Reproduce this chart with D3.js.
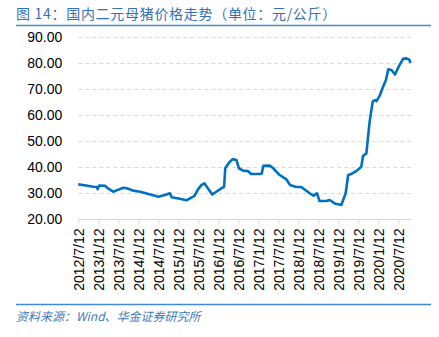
<!DOCTYPE html>
<html><head><meta charset="utf-8">
<script src="https://cdn.jsdelivr.net/npm/d3@7"></script>
<style>body{margin:0;background:#fff;}svg{display:block;}</style>
</head><body><svg id="c" width="439" height="337"></svg>
<script>
const titleText = "图 14：国内二元母猪价格走势（单位：元/公斤）";
const sourceText = "资料来源：Wind、华金证券研究所";
const tickLabels = ["2012/7/12","2013/1/12","2013/7/12","2014/1/12","2014/7/12","2015/1/12","2015/7/12","2016/1/12","2016/7/12","2017/1/12","2017/7/12","2018/1/12","2018/7/12","2019/1/12","2019/7/12","2020/1/12","2020/7/12"];
const yTicks = [20,30,40,50,60,70,80,90];
const dates = ["2012-07-12","2012-09-20","2012-11-25","2012-12-26","2013-01-05","2013-01-18","2013-03-12","2013-04-05","2013-05-27","2013-07-08","2013-08-27","2013-09-27","2013-11-27","2014-01-27","2014-05-27","2014-07-12","2014-09-12","2014-10-27","2014-11-12","2015-01-25","2015-03-27","2015-06-08","2015-07-10","2015-08-12","2015-09-08","2015-10-08","2015-11-18","2015-12-25","2016-02-08","2016-03-05","2016-03-15","2016-04-18","2016-05-22","2016-06-25","2016-07-18","2016-08-25","2016-10-10","2016-11-05","2017-01-25","2017-02-12","2017-02-25","2017-04-25","2017-05-25","2017-07-25","2017-09-25","2017-10-27","2017-12-25","2018-02-08","2018-04-25","2018-05-30","2018-06-30","2018-07-25","2018-09-25","2018-10-25","2018-12-10","2019-02-08","2019-02-20","2019-03-20","2019-04-12","2019-05-12","2019-06-25","2019-07-25","2019-08-10","2019-08-25","2019-09-25","2019-10-25","2019-11-22","2019-12-12","2019-12-27","2020-01-27","2020-02-25","2020-03-22","2020-04-12","2020-05-12","2020-06-12","2020-07-20","2020-08-25","2020-09-25","2020-10-18","2020-11-03"];
const prices = [33.4,33.0,32.5,32.4,31.6,33.0,32.9,32.0,30.6,31.3,32.1,31.9,31.0,30.6,29.2,28.7,29.3,30.0,28.5,27.9,27.3,29.0,31.5,33.2,33.8,31.9,29.5,30.6,31.9,32.5,39.6,41.7,43.1,42.8,39.6,38.7,38.5,37.4,37.4,37.6,40.5,40.6,39.7,37.0,35.3,33.2,32.4,32.4,30.0,29.1,30.0,27.0,27.0,27.4,26.1,25.5,26.8,30.0,37.0,37.4,38.5,39.6,40.2,44.3,45.3,57.5,65.2,65.8,65.4,67.7,70.9,73.5,77.6,77.3,75.6,78.9,81.6,81.8,81.4,80.1];

const parse = d3.timeParse("%Y-%m-%d");
const parseTick = d3.timeParse("%Y/%m/%d");
const data = dates.map((d,i)=>({t:parse(d), v:prices[i]}));
const svg = d3.select("#c");
const x0 = 78.3, x1 = 410.7, yTop = 37, yBot = 219.3;
const x = d3.scaleTime().domain([parse("2012-07-12"), parse("2020-11-03")]).range([x0, x1]);
const y = d3.scaleLinear().domain([20,90]).range([yBot, yTop]);

// title
svg.append("text").attr("x",16).attr("y",19).attr("font-family","'Noto Sans CJK SC'").attr("font-size",14).attr("letter-spacing","0.7px").attr("fill","#3470b8").text(titleText);
svg.append("line").attr("x1",16).attr("x2",431).attr("y1",25.5).attr("y2",25.5).attr("stroke","#3f8ad2").attr("stroke-width",1.3);

// grid
svg.append("g").selectAll("line").data(yTicks.filter(v=>v>20)).join("line")
  .attr("x1",x0).attr("x2",x1).attr("y1",d=>Math.round(y(d))+0.5).attr("y2",d=>Math.round(y(d))+0.5)
  .attr("stroke","#d9d9d9").attr("stroke-dasharray","4,3");

// y axis labels
const yAxis = d3.axisLeft(y).tickValues(yTicks).tickFormat(d3.format(".2f")).tickSize(0).tickPadding(16);
const gy = svg.append("g").attr("transform",`translate(${x0},0)`).call(yAxis);
gy.select(".domain").remove();
gy.selectAll("text").attr("font-family","'Liberation Sans', Arial, sans-serif").attr("font-size",14).attr("fill","#000");

// x axis
const tickDates = tickLabels.map(s=>parseTick(s));
const xAxis = d3.axisBottom(x).tickValues(tickDates).tickFormat((d,i)=>tickLabels[i]).tickSize(4).tickPadding(0);
const gx = svg.append("g").attr("transform",`translate(0,${Math.round(yBot)+0.5})`).call(xAxis);
gx.select(".domain").attr("stroke","#d9d9d9").attr("d",`M${x0},0H${x1}`);
gx.selectAll(".tick line").attr("stroke","#d9d9d9");
gx.selectAll("text").attr("font-family","'Liberation Sans', Arial, sans-serif").attr("font-size",14).attr("fill","#000")
  .attr("text-anchor","end").attr("dy","0.35em").attr("y",0)
  .attr("transform","translate(0,9) rotate(-90)");

// line
const line = d3.line().x(d=>x(d.t)).y(d=>y(d.v));
svg.append("path").datum(data).attr("d",line).attr("fill","none").attr("stroke","#0070c0").attr("stroke-width",2.6).attr("stroke-linejoin","round");

// footer
svg.append("line").attr("x1",16).attr("x2",431).attr("y1",304.5).attr("y2",304.5).attr("stroke","#3f8ad2").attr("stroke-width",1.3);
svg.append("text").attr("x",16).attr("y",321).attr("font-family","'Noto Sans CJK SC'").attr("font-size",12).attr("font-style","italic").attr("fill","#3d78c0").text(sourceText);
</script></body></html>
